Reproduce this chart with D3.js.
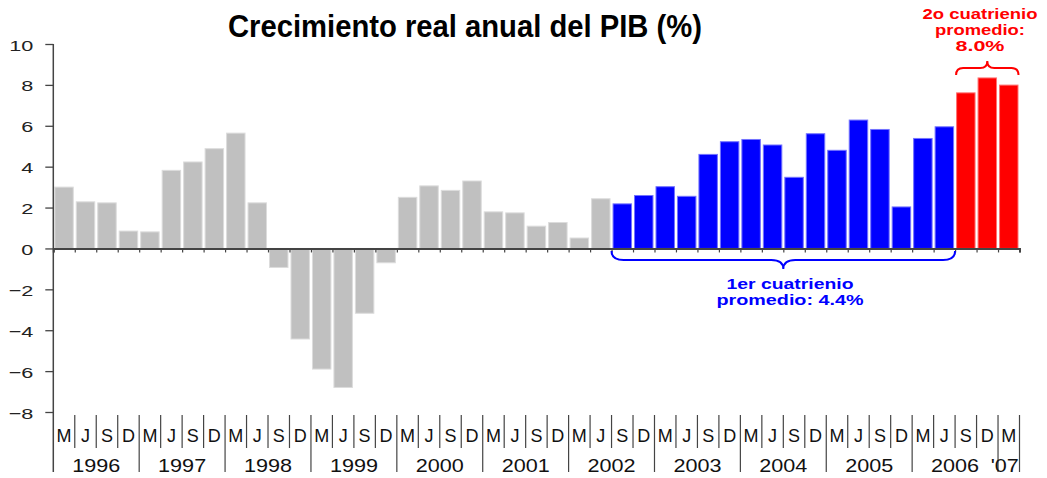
<!DOCTYPE html>
<html>
<head>
<meta charset="utf-8">
<script src="https://cdn.jsdelivr.net/npm/d3@7"></script>
<style>
  html, body { margin: 0; padding: 0; background: #fff; }
  svg { display: block; }
  text { font-family: "Liberation Sans", Arial, sans-serif; }
</style>
</head>
<body>
<svg id="chart" width="1047" height="478"></svg>
<script>
// ---------------- DATA ----------------
const titleText = "Crecimiento real anual del PIB (%)";
const years = ["1996","1997","1998","1999","2000","2001","2002","2003","2004","2005","2006","'07"];
const quarterLabels = ["M","J","S","D"];
// quarterly annual GDP growth, 1996 M ... 2007 M
const values = [
  3.0, 2.28, 2.23, 0.85,      // 1996
  0.81, 3.82, 4.23, 4.88,     // 1997
  5.64, 2.23, -0.93, -4.43,   // 1998
  -5.9, -6.8, -3.17, -0.7,    // 1999
  2.5, 3.06, 2.84, 3.3,       // 2000
  1.79, 1.74, 1.09, 1.27,     // 2001
  0.51, 2.43, 2.18, 2.59,     // 2002
  3.02, 2.55, 4.6, 5.22,      // 2003
  5.33, 5.06, 3.48, 5.61,     // 2004
  4.8, 6.28, 5.82, 2.03,      // 2005
  5.38, 5.95, 7.61, 8.34,     // 2006
  7.99                        // 2007
];
const yTicks = [-8, -6, -4, -2, 0, 2, 4, 6, 8, 10];
const firstTerm = { start: "2002 S", end: "2006 J", lines: ["1er cuatrienio", "promedio: 4.4%"] };
const secondTerm = { start: "2006 S", end: "'07 M", lines: ["2o cuatrienio", "promedio:", "8.0%"] };
const colors = { base: "#c0c0c0", first: "#0000ff", second: "#ff0000" };

// categories built from years x quarters
const categories = [];
years.forEach((y, yi) => {
  const qs = yi === years.length - 1 ? ["M"] : quarterLabels;
  qs.forEach(q => categories.push({ year: y, q: q, key: y + " " + q }));
});
const data = categories.map((c, i) => ({ ...c, value: values[i] }));

// ---------------- CHART ----------------
const svg = d3.select("#chart");
const x0 = 53.3, x1 = 1019.5;
const x = d3.scaleBand().domain(data.map(d => d.key)).range([x0, x1]).paddingInner(0.14).paddingOuter(0.07);
const y = d3.scaleLinear().domain([-8, 10]).range([412, 44]);
const step = x.step();

const iFirstS = categories.findIndex(c => c.key === firstTerm.start);
const iFirstE = categories.findIndex(c => c.key === firstTerm.end);
const iSecS = categories.findIndex(c => c.key === secondTerm.start);
const iSecE = categories.findIndex(c => c.key === secondTerm.end);
function colorOf(i) {
  if (i >= iSecS && i <= iSecE) return colors.second;
  if (i >= iFirstS && i <= iFirstE) return colors.first;
  return colors.base;
}
function strokeOf(i) {
  const c = d3.color(colorOf(i));
  return d3.interpolateRgb(c, "#ffffff")(0.45);
}

// Title
svg.append("text")
  .attr("x", 228).attr("y", 37)
  .attr("textLength", 474).attr("lengthAdjust", "spacingAndGlyphs")
  .style("font-family", "'Liberation Sans Narrow','Arial Narrow','Liberation Sans',Arial,sans-serif")
  .style("font-size", "32px").style("font-weight", "bold").attr("fill", "#000")
  .text(titleText);

// Bars
svg.append("g").selectAll("rect").data(data).join("rect")
  .attr("x", d => x(d.key))
  .attr("width", x.bandwidth())
  .attr("y", d => y(Math.max(0, d.value)))
  .attr("height", d => Math.abs(y(d.value) - y(0)))
  .attr("fill", (d, i) => colorOf(i))
  .attr("stroke", (d, i) => strokeOf(i))
  .attr("stroke-width", 1);

// Y axis
const yAxis = d3.axisLeft(y).tickValues(yTicks).tickSize(8).tickFormat(d3.format("d"));
const gy = svg.append("g").attr("transform", `translate(${x0},0)`).call(yAxis);
gy.select(".domain").remove();
gy.selectAll(".tick line").attr("stroke", "#444").attr("stroke-width", 1.3);
gy.selectAll(".tick text").each(function(d) {
  const t = d3.select(this);
  t.attr("x", null).attr("dy", null).attr("text-anchor", "end")
   .attr("transform", `translate(-20,6) scale(1.4,1)`)
   .style("font-size", "15.5px").attr("fill", "#222");
});
svg.append("line").attr("x1", x0).attr("x2", x0).attr("y1", y(10)).attr("y2", 472)
  .attr("stroke", "#444").attr("stroke-width", 1.5);

// Zero line with ticks
const zx = d3.axisBottom(d3.scaleLinear().domain([0, data.length]).range([x0, x1]))
  .tickValues(d3.range(0, data.length + 1)).tickSize(4).tickFormat("");
const gz = svg.append("g").attr("transform", `translate(0,${y(0)})`).call(zx);
gz.select(".domain").attr("stroke", "#444").attr("stroke-width", 2);
gz.selectAll(".tick line").attr("stroke", "#444").attr("stroke-width", 1.2);

// Category label grid
const bx = i => x0 + i * step;
const grid = svg.append("g");
d3.range(1, data.length + 1).forEach(i => {
  const isYear = i % 4 === 0 || i === data.length;
  grid.append("line").attr("x1", bx(i)).attr("x2", bx(i))
    .attr("y1", 415).attr("y2", isYear ? 472 : 448)
    .attr("stroke", "#444").attr("stroke-width", 1.2);
});
grid.selectAll("text.q").data(data).join("text").attr("class", "q")
  .attr("x", d => x(d.key) + x.bandwidth() / 2).attr("y", 442)
  .attr("text-anchor", "middle").style("font-size", "18px").attr("fill", "#111")
  .text(d => d.q);
grid.selectAll("text.yr").data(years).join("text").attr("class", "yr")
  .attr("transform", (d, i) => {
    const n = categories.filter(c => c.year === d);
    const cx = (x(n[0].key) + x(n[n.length - 1].key) + x.bandwidth()) / 2 - (n.length === 1 ? 4 : 0);
    return `translate(${cx},472) scale(1.2,1)`;
  })
  .attr("text-anchor", "middle").style("font-size", "18px").attr("fill", "#111")
  .text(d => d);

// Braces
function bracePath(xa, xb, yEnd, yMid, yTip, xTip, q) {
  return `M${xa},${yEnd} Q${xa},${yMid} ${xa + q},${yMid} L${xTip - q},${yMid} Q${xTip},${yMid} ${xTip},${yTip}` +
         ` Q${xTip},${yMid} ${xTip + q},${yMid} L${xb - q},${yMid} Q${xb},${yMid} ${xb},${yEnd}`;
}
const b1a = bx(iFirstS), b1b = bx(iFirstE + 1);
svg.append("path").attr("d", bracePath(b1a, b1b, 251, 260, 269, (b1a + b1b) / 2, 12))
  .attr("fill", "none").attr("stroke", colors.first).attr("stroke-width", 2);
const t1 = svg.append("g").attr("fill", colors.first).style("font-weight", "bold").style("font-size", "14px");
[[firstTerm.lines[0], 289, 127], [firstTerm.lines[1], 305, 147]].forEach(([s, yy, w]) => {
  t1.append("text").attr("x", 790 - w / 2).attr("y", yy).attr("textLength", w)
    .attr("lengthAdjust", "spacingAndGlyphs").text(s);
});

const b2a = bx(iSecS) + 1, b2b = bx(iSecE + 1) - 1;
svg.append("path").attr("d", bracePath(b2a, b2b, 75, 68, 61, (b2a + b2b) / 2, 7))
  .attr("fill", "none").attr("stroke", colors.second).attr("stroke-width", 2);
const t2 = svg.append("g").attr("fill", colors.second).style("font-weight", "bold").style("font-size", "14px");
[[secondTerm.lines[0], 19, 115], [secondTerm.lines[1], 35, 90], [secondTerm.lines[2], 51, 49]].forEach(([s, yy, w]) => {
  t2.append("text").attr("x", 980 - w / 2).attr("y", yy).attr("textLength", w)
    .attr("lengthAdjust", "spacingAndGlyphs").text(s);
});
</script>
</body>
</html>
